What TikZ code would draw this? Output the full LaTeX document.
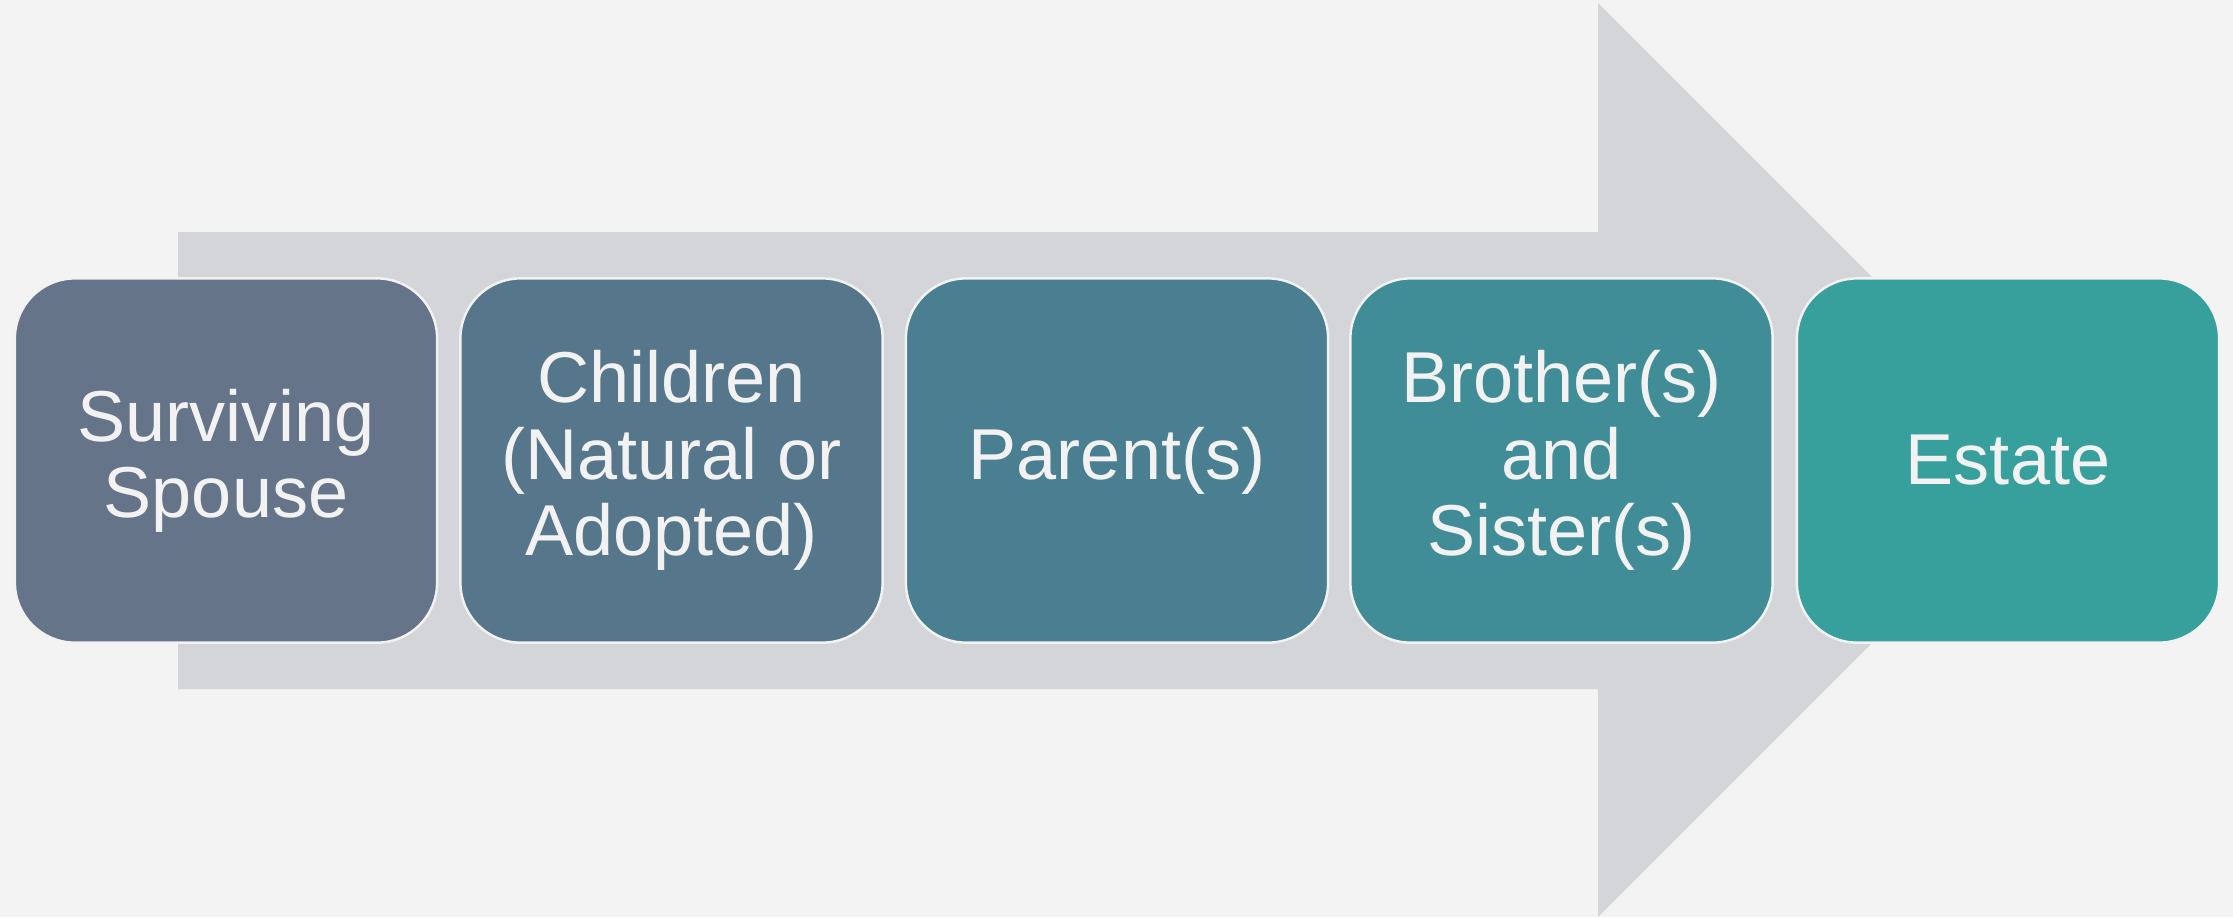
\documentclass[tikz,border=0pt]{standalone}
\usepackage{fontspec}
\setmainfont{Liberation Sans}
\definecolor{bg}{HTML}{F3F3F3}
\definecolor{arr}{HTML}{D4D5D9}
\definecolor{cA}{HTML}{657489}
\definecolor{cB}{HTML}{56768B}
\definecolor{cC}{HTML}{4A7F91}
\definecolor{cD}{HTML}{408D98}
\definecolor{cE}{HTML}{37A09C}
\definecolor{txt}{HTML}{F2F2F2}
\tikzset{
  stagebox/.style={draw=txt, line width=0.7pt, rounded corners=0.6cm,
    minimum width=4.22cm, minimum height=3.64cm, inner sep=0pt,
    align=center, text=txt,
    font=\fontsize{20.5}{21.7}\selectfont}
}
\begin{document}
\begin{tikzpicture}[x=0.01cm,y=-0.01cm]
\fill[bg] (0,0) rectangle (2233,917);
\useasboundingbox (0,0) rectangle (2233,917);
\fill[arr] (178,232) -- (1598,232) -- (1598,3) -- (2055,460) -- (1598,917)
  -- (1598,689) -- (178,689) -- cycle;
\node[stagebox, fill=cA] (s1) at (226,460.5) {Surviving\\Spouse};
\node[stagebox, fill=cB] (s2) at (671.5,460.5) {Children\\(Natural or\\Adopted)};
\node[stagebox, fill=cC] (s3) at (1117,460.5) {Parent(s)};
\node[stagebox, fill=cD] (s4) at (1561.5,460.5) {Brother(s)\\and\\Sister(s)};
\node[stagebox, fill=cE] (s5) at (2008,460.5) {Estate};
\end{tikzpicture}
\end{document}
